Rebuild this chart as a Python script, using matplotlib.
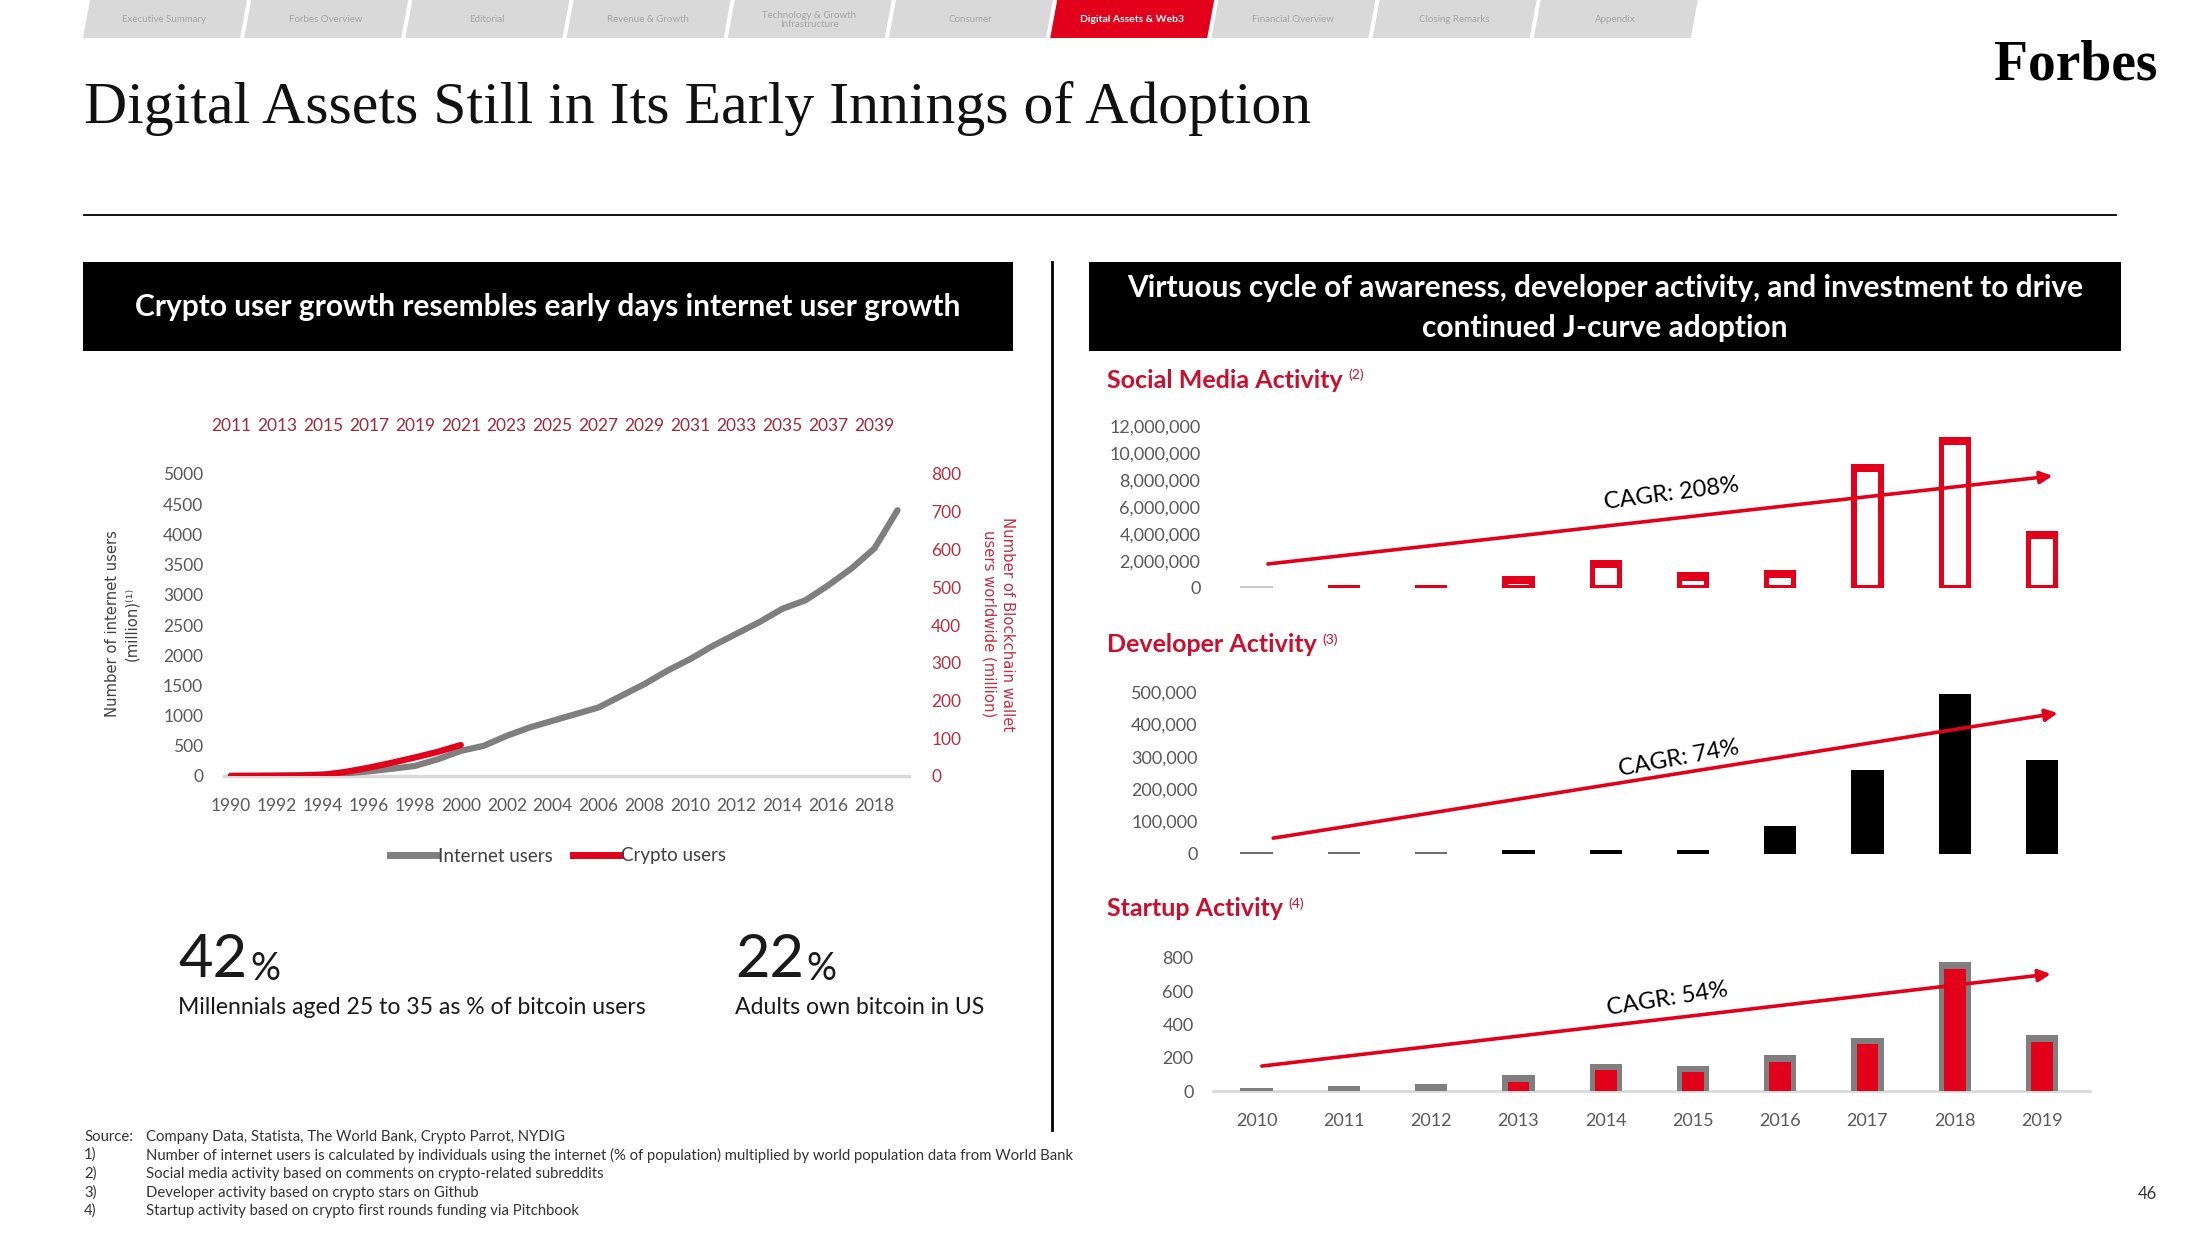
import matplotlib
matplotlib.use("Agg")
import matplotlib.pyplot as plt
from matplotlib.patches import Polygon, Rectangle
from matplotlib.lines import Line2D
from matplotlib.ticker import FuncFormatter

# ---------------- data ----------------
tabs = ["Executive Summary", "Forbes Overview", "Editorial", "Revenue & Growth",
        "Technology & Growth\nInfrastructure", "Consumer", "Digital Assets & Web3",
        "Financial Overview", "Closing Remarks", "Appendix"]
active_tab = "Digital Assets & Web3"

internet_years = list(range(1990, 2020))
internet_users = [3, 4, 7, 14, 25, 44, 77, 120, 166, 277, 416, 500, 665, 804, 915,
                  1025, 1136, 1330, 1524, 1746, 1940, 2162, 2356, 2550, 2770,
                  2910, 3160, 3437, 3770, 4400]
crypto_years = list(range(2011, 2022))
crypto_users = [0.1, 0.3, 0.6, 1.2, 3, 11, 22, 35, 49, 64, 82]

bottom_ticks = list(range(1990, 2019, 2))
top_ticks = list(range(2011, 2040, 2))

years = list(range(2010, 2020))
social = [0.15e6, 0.2e6, 0.2e6, 0.9e6, 2.1e6, 1.15e6, 1.35e6, 9.2e6, 11.2e6, 4.2e6]
developer = [7000, 7000, 7000, 12000, 12000, 12000, 87000, 260000, 495000, 291000]
startup = [20, 30, 42, 94, 164, 152, 214, 320, 776, 336]

social_cagr = "CAGR: 208%"
developer_cagr = "CAGR: 74%"
startup_cagr = "CAGR: 54%"

footnotes = [("Source:", "Company Data, Statista, The World Bank, Crypto Parrot, NYDIG"),
             ("1)", "Number of internet users is calculated by individuals using the internet (% of population) multiplied by world population data from World Bank"),
             ("2)", "Social media activity based on comments on crypto-related subreddits"),
             ("3)", "Developer activity based on crypto stars on Github"),
             ("4)", "Startup activity based on crypto first rounds funding via Pitchbook")]

# ---------------- styling ----------------
W, H = 2200, 1238
RED = "#E3001B"
DRED = "#C8102E"
GRAY = "#7F7F7F"
TICK = "#595959"
SANS = "Lato"

fig = plt.figure(figsize=(W / 100, H / 100), dpi=100)
fig.patch.set_facecolor("white")


def rect(x0, y0, x1, y1):
    return [x0 / W, 1 - y1 / H, (x1 - x0) / W, (y1 - y0) / H]


bg = fig.add_axes([0, 0, 1, 1], label="bg")
bg.set_xlim(0, W)
bg.set_ylim(H, 0)
bg.axis("off")
bg.set_zorder(-1)

# nav tabs
for i, name in enumerate(tabs):
    x0 = 83 + i * 161.2
    w = 157
    act = name == active_tab
    poly = Polygon([(x0, 38), (x0 + w, 38), (x0 + w + 7, 0), (x0 + 7, 0)],
                   closed=True, facecolor=RED if act else "#D9D9D9", edgecolor="none")
    bg.add_patch(poly)
    bg.text(x0 + w / 2 + 3, 20, name, ha="center", va="center",
            fontsize=7.5 if act else 7, family=SANS,
            color="white" if act else "#A6A6A6",
            fontweight="bold" if act else "normal", linespacing=1.0)

# title, logo, rule
bg.text(84, 108, "Digital Assets Still in Its Early Innings of Adoption",
        fontsize=43, family="Liberation Serif", va="center", ha="left", color="#111111")
bg.text(2076, 65, "Forbes", fontsize=40, family="Liberation Serif", fontweight="bold",
        ha="center", va="center", color="black")
bg.plot([84, 2116], [215, 215], color="black", lw=1.3)

# black header boxes
bg.add_patch(Rectangle((83, 262), 930, 89, facecolor="black", edgecolor="none"))
bg.text(548, 307, "Crypto user growth resembles early days internet user growth",
        ha="center", va="center", color="white", fontsize=21.5, family=SANS, fontweight="bold")
bg.add_patch(Rectangle((1089, 262), 1032, 89, facecolor="black", edgecolor="none"))
bg.text(1605, 308, "Virtuous cycle of awareness, developer activity, and investment to drive\ncontinued J-curve adoption",
        ha="center", va="center", color="white", fontsize=21.5, family=SANS, fontweight="bold",
        linespacing=1.5)

# divider
bg.plot([1052, 1052], [262, 1130], color="black", lw=2)

# ---------------- left chart ----------------
ax = fig.add_axes(rect(224, 474, 909, 776), label="internet")
ax.patch.set_alpha(0)
ax.plot(internet_years, internet_users, color=GRAY, lw=4.5, solid_capstyle="round",
        zorder=3, label="Internet users")
ax.set_xlim(1989.7, 2019.5)
ax.set_ylim(0, 5000)
ax.set_yticks(range(0, 5001, 500))
ax.set_xticks(bottom_ticks)
ax.tick_params(axis="y", length=0, labelsize=12.5, labelcolor=TICK, pad=15)
ax.tick_params(axis="x", length=0, labelsize=12.5, labelcolor=TICK, pad=16)
for lab in ax.get_xticklabels() + ax.get_yticklabels():
    lab.set_family(SANS)
for s in ax.spines.values():
    s.set_visible(False)
ax.axhline(0, color="#D9D9D9", lw=2.5, zorder=1, clip_on=False)

axc = fig.add_axes(rect(224, 474, 909, 776), label="crypto", frameon=False)
axc.patch.set_alpha(0)
axc.plot(crypto_years, crypto_users, color=RED, lw=4.5, solid_capstyle="round",
         zorder=4, label="Crypto users")
axc.set_xlim(1989.7 + 21, 2019.5 + 21)
axc.set_ylim(0, 800)
axc.xaxis.tick_top()
axc.yaxis.tick_right()
axc.set_xticks(top_ticks)
axc.set_yticks(range(0, 801, 100))
axc.tick_params(axis="x", length=0, labelsize=12.5, labelcolor="#9E2A3A", pad=29)
axc.tick_params(axis="y", length=0, labelsize=12.5, labelcolor="#B5303F", pad=16)
for lab in axc.get_xticklabels() + axc.get_yticklabels():
    lab.set_family(SANS)

bg.text(122, 624, "Number of internet users\n(million)\u207d\u00b9\u207e", rotation=90,
        ha="center", va="center", fontsize=10.6, family="DejaVu Sans", color="#404040",
        linespacing=1.3)
bg.text(998, 624, "Number of Blockchain wallet\nusers worldwide (million)", rotation=-90,
        ha="center", va="center", fontsize=10.7, family="DejaVu Sans", color="#C0303F",
        linespacing=1.3)

h1 = Line2D([], [], color=GRAY, lw=5)
h2 = Line2D([], [], color=RED, lw=5)
leg = fig.legend([h1, h2], ["Internet users", "Crypto users"], ncol=2, loc="center",
                 bbox_to_anchor=(558 / W, 1 - 856 / H), frameon=False,
                 prop={"family": SANS, "size": 13.5}, handlelength=2.5,
                 handletextpad=0.05, columnspacing=1.1)
for t in leg.get_texts():
    t.set_color("#404040")

# stats
for x, big, desc in [(178, "42", "Millennials aged 25 to 35 as % of bitcoin users"),
                     (735, "22", "Adults own bitcoin in US")]:
    t = bg.text(x, 977, big, fontsize=43, family=SANS, color="#1A1A1A", ha="left",
                va="baseline")
    bg.annotate("%", xy=(1, 0), xycoords=t, xytext=(2, 0), textcoords="offset points",
                fontsize=27, family=SANS, color="#1A1A1A", ha="left", va="bottom")
    bg.text(x, 1007, desc, fontsize=16.6, family=SANS, color="#1A1A1A", ha="left",
            va="center")

# ---------------- right panels ----------------
def panel(y_top, y_bot, ymax, step, fmt, pad):
    a = fig.add_axes(rect(1213, y_top, 2090, y_bot))
    a.patch.set_alpha(0)
    a.set_xlim(2009.5, 2019.55)
    a.set_ylim(0, ymax)
    a.set_yticks(range(0, int(ymax) + 1, int(step)))
    a.yaxis.set_major_formatter(FuncFormatter(fmt))
    a.tick_params(length=0, labelsize=13, labelcolor=TICK, pad=pad)
    for lab in a.get_yticklabels():
        lab.set_family(SANS)
    for s in a.spines.values():
        s.set_visible(False)
    return a


def section_title(x, y, text, sup):
    t = bg.text(x, y, text, fontsize=18, family=SANS, fontweight="bold", color=DRED,
                ha="left", va="center")
    bg.annotate(sup, xy=(1, 1), xycoords=t, xytext=(4, 0), textcoords="offset points",
                fontsize=10, family=SANS, color=DRED, ha="left", va="top")


def cagr(a, start, end, label, pos, rot):
    a.annotate("", xy=end, xytext=start,
               arrowprops=dict(arrowstyle="-|>", color=RED, lw=2.6, mutation_scale=18,
                               shrinkA=0, shrinkB=0), zorder=5)
    a.text(pos[0], pos[1], label, fontsize=17, family=SANS, color="black", rotation=rot,
           ha="center", va="center", rotation_mode="anchor", zorder=6)


comma = lambda v, p: f"{int(v):,}"

# Social media
section_title(1107, 380, "Social Media Activity", "(2)")
a1 = panel(426, 588, 12e6, 2e6, comma, 9)
a1.set_xticks([])
s_colors = ["#C8C8C8"] + [RED] * (len(years) - 1)
a1.bar(years, social, width=0.37, color=s_colors, zorder=2)
in_bot = 0.02 * 12e6
in_top = [v - 0.05 * 12e6 for v in social]
a1.bar(years, [max(t - in_bot, 0) for t in in_top], bottom=in_bot, width=0.25,
       color="white", zorder=3)
cagr(a1, (2010.13, 1.78e6), (2019.12, 8.3e6), social_cagr, (2014.75, 6.96e6), 7.5)

# Developer
section_title(1107, 645, "Developer Activity", "(3)")
a2 = panel(692, 854, 500000, 100000, comma, 11)
a2.set_xticks([])
d_colors = ["#6E6E6E"] * 3 + ["black"] * (len(years) - 3)
a2.bar(years, developer, width=0.37, color=d_colors, zorder=2)
cagr(a2, (2010.19, 49000), (2019.18, 435000), developer_cagr, (2014.84, 296000), 10.5)

# Startup
section_title(1107, 909, "Startup Activity", "(4)")
a3 = panel(958, 1091, 800, 200, comma, 14)
a3.set_xticks(years)
a3.tick_params(axis="x", pad=16)
for lab in a3.get_xticklabels():
    lab.set_family(SANS)
a3.axhline(0, color="#D9D9D9", lw=2, zorder=1, clip_on=False)
a3.bar(years, startup, width=0.37, color=GRAY, zorder=2)
inner = [v - 0.05 * 800 for v in startup]
a3.bar(years, [max(v, 0) for v in inner], width=0.25, color=RED, zorder=3)
cagr(a3, (2010.06, 150), (2019.1, 704), startup_cagr, (2014.71, 553), 9)

# footnotes
for (k, txt), y in zip(footnotes, [1137, 1155, 1174, 1193, 1211]):
    bg.text(84, y, k, fontsize=10.7, family=SANS, color="#333333", ha="left", va="center")
    bg.text(146, y, txt, fontsize=10.7, family=SANS, color="#333333", ha="left", va="center")

bg.text(2147, 1194, "46", fontsize=12, family=SANS, color="#333333", ha="center", va="center")

fig.savefig("out.png", dpi=100, facecolor="white")
